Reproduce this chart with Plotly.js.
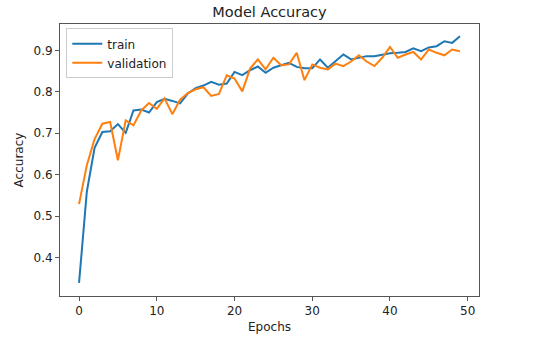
<!DOCTYPE html>
<html>
<head>
<meta charset="utf-8">
<script src="https://cdn.plot.ly/plotly-3.0.1.min.js"></script>
<style>html,body{margin:0;padding:0;background:#fff;}#chart{width:547px;height:351px;}</style>
</head>
<body>
<div id="chart"></div>
<script>
const epochs = Array.from({length: 50}, (_, i) => i);
const trainAcc = [0.339, 0.559, 0.665, 0.703, 0.705, 0.722, 0.701, 0.755, 0.757, 0.750,
  0.775, 0.783, 0.778, 0.772, 0.796, 0.809, 0.815, 0.824, 0.817, 0.820,
  0.848, 0.840, 0.852, 0.861, 0.846, 0.858, 0.864, 0.870, 0.860, 0.857,
  0.857, 0.878, 0.858, 0.873, 0.890, 0.878, 0.882, 0.886, 0.886, 0.890,
  0.893, 0.894, 0.896, 0.905, 0.898, 0.907, 0.910, 0.922, 0.918, 0.934];
const valAcc = [0.529, 0.623, 0.686, 0.723, 0.727, 0.635, 0.731, 0.719, 0.755, 0.773,
  0.759, 0.784, 0.746, 0.781, 0.797, 0.806, 0.811, 0.790, 0.795, 0.840,
  0.832, 0.801, 0.856, 0.878, 0.854, 0.882, 0.864, 0.866, 0.894, 0.828,
  0.866, 0.858, 0.854, 0.868, 0.862, 0.873, 0.888, 0.873, 0.862, 0.882,
  0.908, 0.882, 0.890, 0.896, 0.878, 0.902, 0.894, 0.888, 0.902, 0.898];
const yTicks = [0.4, 0.5, 0.6, 0.7, 0.8, 0.9];
const xTicks = [0, 10, 20, 30, 40, 50];

const font = "DejaVu Sans, sans-serif";
const axisColor = "#555";
const traces = [
  {x: epochs, y: trainAcc, name: "train", mode: "lines", line: {color: "#1f77b4", width: 2}},
  {x: epochs, y: valAcc, name: "validation", mode: "lines", line: {color: "#ff7f0e", width: 2}}
];
const layout = {
  width: 547, height: 351,
  margin: {l: 60, r: 68, t: 24, b: 55, pad: 0},
  paper_bgcolor: "#fff", plot_bgcolor: "#fff",
  font: {family: font, size: 12, color: "#222"},
  title: {text: "Model Accuracy", font: {family: font, size: 14.5, color: "#222"}, x: 0.5, xref: "paper", y: 0.965, yanchor: "middle"},
  xaxis: {
    range: [-2.45, 51.45], tickvals: xTicks, ticktext: xTicks.map(String),
    showgrid: false, zeroline: false, showline: true, mirror: true, linecolor: axisColor, linewidth: 1,
    ticks: "outside", ticklen: 4, tickcolor: axisColor, tickwidth: 1,
    title: {text: "Epochs", font: {family: font, size: 12, color: "#222"}, standoff: 5}
  },
  yaxis: {
    range: [0.3075, 0.9635], tickvals: yTicks, ticktext: yTicks.map(v => v.toFixed(1)),
    showgrid: false, zeroline: false, showline: true, mirror: true, linecolor: axisColor, linewidth: 1,
    ticks: "outside", ticklen: 4, tickcolor: axisColor, tickwidth: 1,
    title: {text: "Accuracy", font: {family: font, size: 12, color: "#222"}, standoff: 7}
  },
  showlegend: true,
  legend: {x: 0.015, y: 0.984, xanchor: "left", yanchor: "top", bgcolor: "#fff", bordercolor: "#ccc", borderwidth: 1,
    font: {family: font, size: 12, color: "#222"}, tracegroupgap: 0}
};
Plotly.newPlot("chart", traces, layout, {staticPlot: true, displayModeBar: false});
</script>
</body>
</html>
